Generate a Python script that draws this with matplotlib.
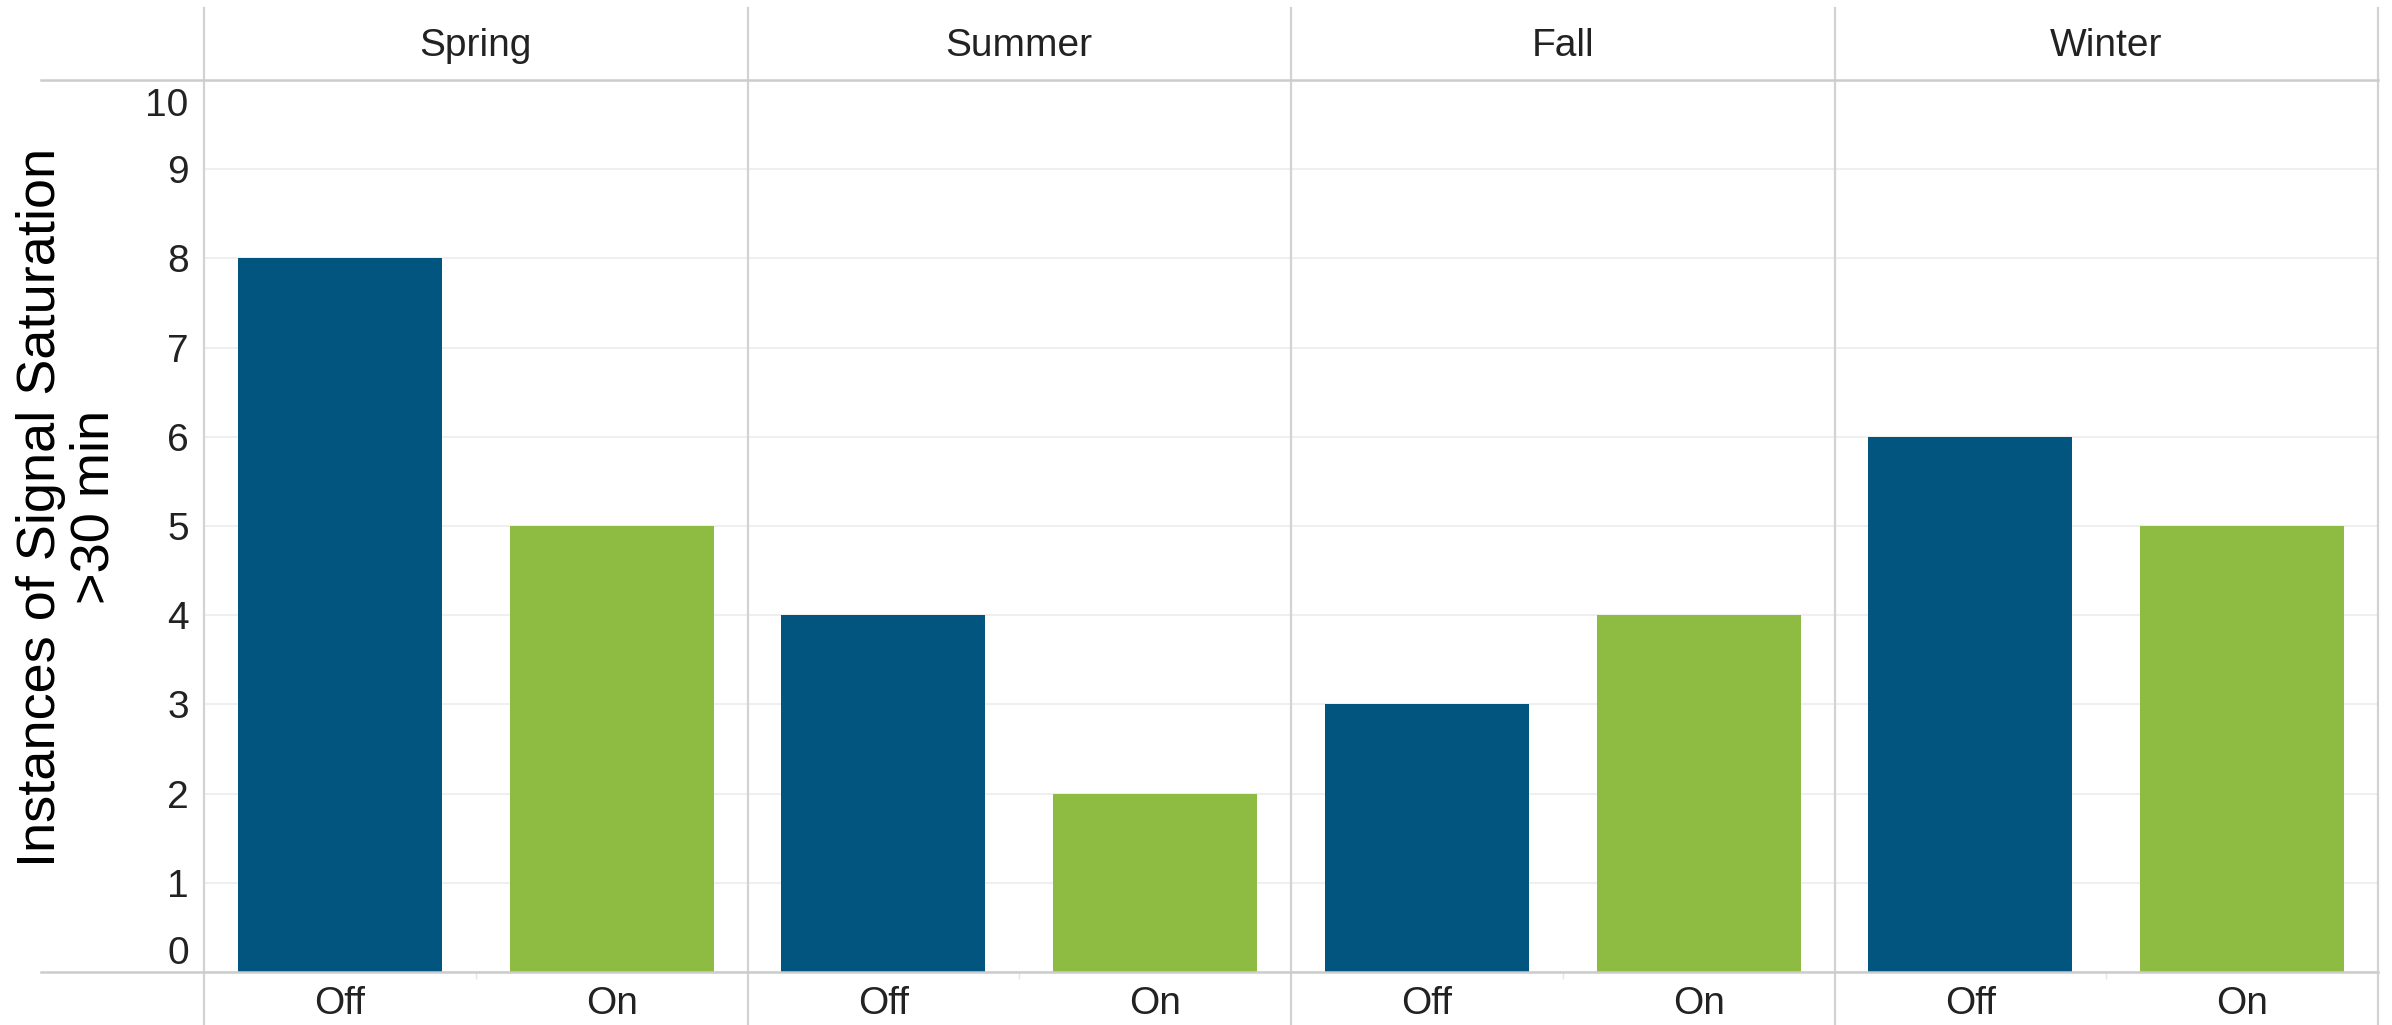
import numpy as np
import matplotlib
matplotlib.use("Agg")
import matplotlib.pyplot as plt
from matplotlib import transforms
from matplotlib.lines import Line2D

plt.rcParams['font.family'] = ['Liberation Sans', 'DejaVu Sans']

# data
seasons = ['Spring', 'Summer', 'Fall', 'Winter']
modes = ['Off', 'On']
off_vals = [8, 4, 3, 6]
on_vals = [5, 2, 4, 5]
yticks = list(range(0, 11))

c_off = '#02557f'
c_on = '#8ebb41'
line_c = '#d2d2d2'
grid_c = '#efefef'

W, H = 2392, 1025
fig = plt.figure(figsize=(W / 100, H / 100), dpi=100)
left, right = 204 / W, 2378 / W
top, bottom = 1 - 80 / H, 1 - 972 / H
ax = fig.add_axes([left, bottom, right - left, top - bottom])

n = len(seasons)
x_off = np.arange(n) * 2 + 0.5
x_on = np.arange(n) * 2 + 1.5
ax.bar(x_off, off_vals, width=0.75, color=c_off, zorder=3)
ax.bar(x_on, on_vals, width=0.75, color=c_on, zorder=3)

ax.set_xlim(0, 2 * n)
ax.set_ylim(0, 10)
for s in ax.spines.values():
    s.set_visible(False)

# y ticks, 0 and 10 pushed inside the band
ax.set_yticks(yticks)
ax.set_yticklabels([str(v) for v in yticks])
ax.tick_params(axis='y', length=0, pad=11, labelsize=28, labelcolor='#222222')
ylabs = ax.get_yticklabels()
ylabs[0].set_va('bottom')
ylabs[-1].set_va('top')
ylabs[-1].set_transform(ylabs[-1].get_transform() +
                        transforms.ScaledTranslation(0, -8 / 100, fig.dpi_scale_trans))
ax.yaxis.grid(True, color=grid_c, linewidth=1.5, zorder=0)

# x ticks
xt = np.sort(np.concatenate([x_off, x_on]))
ax.set_xticks(xt)
ax.set_xticklabels(modes * n)
ax.tick_params(axis='x', length=0, pad=10, labelsize=28, labelcolor='#222222')
ax.set_xticks(np.arange(n) * 2 + 1, minor=True)
ax.tick_params(axis='x', which='minor', length=5, width=1, color='#e6e6e6', direction='out')

# frame lines
blend = transforms.blended_transform_factory(ax.transData, fig.transFigure)
for b in range(n + 1):
    ax.plot([2 * b, 2 * b], [0, 1 - 8 / H], transform=blend, color=line_c,
            linewidth=1.6, clip_on=False, zorder=4)
for yy in (top, bottom):
    fig.add_artist(Line2D([41 / W, right], [yy, yy], transform=fig.transFigure,
                          color='#cccccc', linewidth=1.8))

# column headers
for i, s in enumerate(seasons):
    ax.text(2 * i + 1, 1 - 46 / H, s, transform=blend, ha='center', va='center',
            fontsize=28, color='#222222')

fig.text(68 / W, 1 - 507 / H, 'Instances of Signal Saturation\n>30 min', rotation=90,
         ha='center', va='center', fontsize=39, linespacing=1.1, color='black')

fig.savefig('out.png', dpi=100, facecolor='white')
